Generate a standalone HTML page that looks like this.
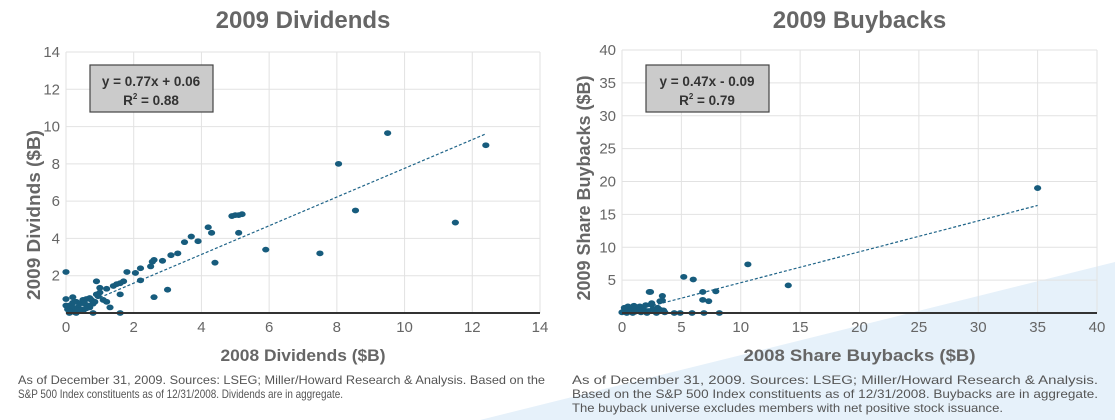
<!DOCTYPE html>
<html><head><meta charset="utf-8"><style>
body{margin:0;width:1115px;height:420px;overflow:hidden;background:#fff;font-family:"Liberation Sans",sans-serif;position:relative}
svg{position:absolute;left:0;top:0}
</style></head><body>
<svg width="1115" height="420">
<polygon points="480,420 1115,262 1115,420" fill="#e6f1fa"/>
<g id="c1"></g><g id="c2"></g>
<g font-size="12" fill="#555">
<text x="18" y="384" textLength="527" lengthAdjust="spacingAndGlyphs">As of December 31, 2009. Sources: LSEG; Miller/Howard Research &amp; Analysis. Based on the</text>
<text x="18" y="398" textLength="325" lengthAdjust="spacingAndGlyphs">S&amp;P 500 Index constituents as of 12/31/2008. Dividends are in aggregate.</text>
</g>
<g font-size="12" fill="#555">
<text x="572" y="384" textLength="526" lengthAdjust="spacingAndGlyphs">As of December 31, 2009. Sources: LSEG; Miller/Howard Research &amp; Analysis.</text>
<text x="572" y="398" textLength="526" lengthAdjust="spacingAndGlyphs">Based on the S&amp;P 500 Index constituents as of 12/31/2008. Buybacks are in aggregate.</text>
<text x="572" y="412" textLength="431" lengthAdjust="spacingAndGlyphs">The buyback universe excludes members with net positive stock issuance.</text>
</g>
</svg>
<script>
const divX=[0,0,0.2,0.9,1,1.2,1.4,1.5,1.6,1.7,1.8,2.05,2.2,2.2,2.5,2.55,2.6,2.85,3.1,3.3,3.5,3.7,3.9,4.2,4.3,4.4,4.9,5.0,5.1,5.2,5.1,5.9,7.5,8.05,8.55,9.5,11.5,12.4,2.6,3.0,1.6,1.6,1.3,1.2,0.8,0.1,0.3,0.5,0.6,0.7,0.9,1.0,0.4,0.2,0.05,0.15,0.35,0.55,0.75,0.95,0.25,0.45,0.65,0.85,0.1,0.3,0.5,0.7,0,0.2,0.4,0.6,0.8,1.1];
const divY=[2.2,0.75,0.85,1.7,1.35,1.3,1.45,1.55,1.6,1.7,2.2,2.15,2.4,1.75,2.5,2.75,2.85,2.8,3.1,3.2,3.8,4.1,3.85,4.6,4.3,2.7,5.2,5.25,5.25,5.3,4.3,3.4,3.2,8.0,5.5,9.65,4.85,9.0,0.85,1.25,1.0,0,0.3,0.6,0,0.4,0.6,0.7,0.75,0.8,1.0,1.1,0.5,0.3,0.2,0.1,0.3,0.5,0.7,0.9,0.05,0.2,0.4,0.6,0,0,0.1,0.3,0.4,0.55,0.15,0.25,0.5,0.7];
const bbX=[35,10.6,14,5.2,6,2.3,2.4,3.4,6.8,7.9,6.8,7.3,3.2,3.4,2.5,4.4,4.9,5.9,6.9,8.2,0.5,1,1.5,2,2.5,3,3.5,0.3,0.8,1.2,1.8,2.2,2.8,3.2,0.1,0.6,1.4,2.6,3.6,0,0.4,0.9,1.6,2.1,2.9,1.1,0.2];
const bbY=[19,7.4,4.2,5.5,5.1,3.2,3.2,2.6,3.2,3.3,2.0,1.8,1.8,1.9,1.5,0,0,0,0,0,1.0,1.1,1.0,1.2,1.3,0.8,0.4,0.5,0.7,0.9,0.6,0.3,0.2,0.5,0.2,0.3,0.4,0.6,0.1,0.1,0,0,0.1,0,0,0.2,0.8];
const divTicks=[0,2,4,6,8,10,12,14];
const bbTicks=[0,5,10,15,20,25,30,35,40];
const divFit=[0.77,0.06,12.4];
const bbFit=[0.47,-0.09,35];
const NS='http://www.w3.org/2000/svg';
function mk(p,t,a){const e=document.createElementNS(NS,t);for(const k in a)e.setAttribute(k,a[k]);p.appendChild(e);return e;}
function chart(g,o){
  const sx=v=>o.x0+(v-o.min)/(o.max-o.min)*(o.x1-o.x0);
  const sy=v=>o.y0-(v-o.min)/(o.max-o.min)*(o.y0-o.y1);
  const t=mk(g,'text',{x:(o.x0+o.x1)/2,y:28,'text-anchor':'middle','font-size':24,'font-weight':'bold',fill:'#666'});t.textContent=o.title;
  
  
  o.ticks.forEach(v=>{
    mk(g,'line',{x1:sx(v),x2:sx(v),y1:o.y1,y2:o.y0,stroke:'#e2e2e2','stroke-width':1});
    mk(g,'line',{x1:o.x0,x2:o.x1,y1:sy(v),y2:sy(v),stroke:'#e2e2e2','stroke-width':1});
    const xl=mk(g,'text',{x:sx(v),y:o.y0+19,'text-anchor':'middle','font-size':15,fill:'#666'});xl.textContent=v;
    
    
    if(v>0){const yl=mk(g,'text',{x:o.x0-6,y:sy(v)+5,'text-anchor':'end','font-size':15,fill:'#666'});yl.textContent=v;
    
    }
  });
  const fx=o.fit;
  mk(g,'line',{x1:sx(1),y1:sy(fx[0]*1+fx[1]),x2:sx(fx[2]),y2:sy(fx[0]*fx[2]+fx[1]),stroke:'#1f6488','stroke-width':1.2,'stroke-dasharray':'3,2'});
  o.xs.forEach((x,i)=>{const d=mk(g,'ellipse',{cx:sx(x),cy:sy(o.ys[i]),rx:3.6,ry:2.9,fill:'#175c7d'});
    
    });
  mk(g,'line',{x1:o.x0,x2:o.x1,y1:o.y0,y2:o.y0,stroke:'#333','stroke-width':2});
  const bx=o.x0+24;
  const r=mk(g,'rect',{x:bx,y:65,width:123,height:47,fill:'#cbcbcb',stroke:'#444','stroke-width':1.2});
  
  
  const e1=mk(g,'text',{x:bx+61,y:86,'text-anchor':'middle','font-size':13.5,'font-weight':'bold',fill:'#333'});e1.textContent=o.eq;
  const e2=mk(g,'text',{x:bx+61,y:105,'text-anchor':'middle','font-size':13.5,'font-weight':'bold',fill:'#333'});e2.innerHTML='R<tspan font-size="8" dy="-6">2</tspan><tspan dy="6"> = '+o.r2+'</tspan>';
  const xt=mk(g,'text',{x:(o.x0+o.x1)/2,y:361,'text-anchor':'middle','font-size':17,'font-weight':'bold',fill:'#666',textLength:o.xtl,lengthAdjust:'spacingAndGlyphs'});xt.textContent=o.xt;
  
  
  const yc=o.ytc;
  const yt=mk(g,'text',{x:o.ytx,y:yc,'text-anchor':'middle','font-size':18,'font-weight':'bold',fill:'#666',textLength:o.ytl,lengthAdjust:'spacingAndGlyphs',transform:'rotate(-90 '+o.ytx+' '+yc+')'});yt.textContent=o.yt;
  
  
}
chart(document.getElementById('c1'),{x0:66,x1:540,y0:313,y1:52,min:0,max:14,ticks:divTicks,xs:divX,ys:divY,fit:divFit,title:'2009 Dividends',eq:'y = 0.77x + 0.06',r2:'0.88',xt:'2008 Dividends ($B)',xtl:165,yt:'2009 Dividnds ($B)',ytl:170,ytx:40,ytc:215});
chart(document.getElementById('c2'),{x0:622,x1:1097,y0:313,y1:50,min:0,max:40,ticks:bbTicks,xs:bbX,ys:bbY,fit:bbFit,title:'2009 Buybacks',eq:'y = 0.47x - 0.09',r2:'0.79',xt:'2008 Share Buybacks ($B)',xtl:232,yt:'2009 Share Buybacks ($B)',ytl:225,ytx:590,ytc:188});
</script>
</body></html>
